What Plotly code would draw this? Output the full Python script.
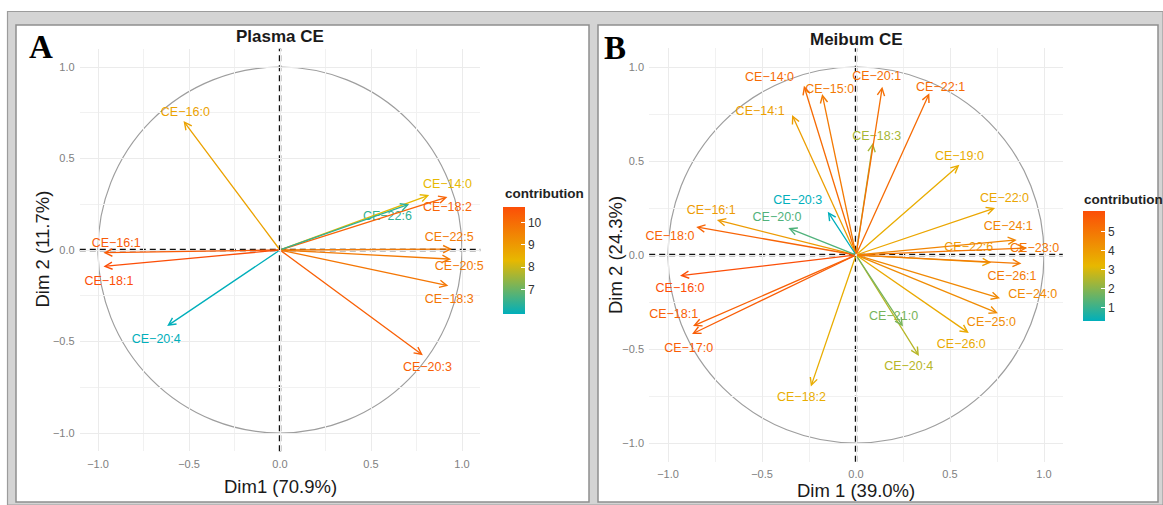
import plotly.graph_objects as go
from plotly.colors import sample_colorscale

W, H = 1163, 505
SCALE = [[0, "#00AFBB"], [0.5, "#E7B800"], [1, "#FC4E07"]]
FONT = "Liberation Sans"

# ---------------- Panel A : Plasma CE ----------------
a_names = ["CE−14:0", "CE−16:0", "CE−16:1", "CE−18:1", "CE−18:2", "CE−18:3",
           "CE−20:3", "CE−20:4", "CE−20:5", "CE−22:5", "CE−22:6"]
a_dim1 = [0.82, -0.53, -0.97, -0.97, 0.92, 0.925, 0.785, -0.62, 0.94, 0.945, 0.71]
a_dim2 = [0.30, 0.705, -0.015, -0.09, 0.29, -0.195, -0.575, -0.415, -0.05, 0.005, 0.25]
a_contrib = [8.3, 8.8, 10.4, 10.7, 10.2, 9.8, 10.3, 5.9, 9.7, 9.7, 6.4]
# label positions (repelled text)
a_lab_x = [0.92, -0.52, -0.90, -0.94, 0.92, 0.93, 0.81, -0.68, 0.985, 0.93, 0.59]
a_lab_y = [0.355, 0.75, 0.035, -0.175, 0.23, -0.27, -0.645, -0.49, -0.09, 0.065, 0.18]

# ---------------- Panel B : Meibum CE ----------------
b_names = ["CE−14:0", "CE−14:1", "CE−15:0", "CE−16:0", "CE−16:1", "CE−17:0",
           "CE−18:0", "CE−18:1", "CE−18:2", "CE−18:3", "CE−19:0", "CE−20:0",
           "CE−20:1", "CE−20:3", "CE−20:4", "CE−21:0", "CE−22:0", "CE−22:1",
           "CE−22:6", "CE−23:0", "CE−24:0", "CE−24:1", "CE−25:0", "CE−26:0",
           "CE−26:1"]
b_dim1 = [-0.277, -0.34, -0.18, -0.936, -0.74, -0.872, -0.85, -0.867, -0.24,
          0.09, 0.55, -0.36, 0.14, -0.15, 0.335, 0.25, 0.74, 0.39,
          0.72, 0.91, 0.766, 0.855, 0.755, 0.60, 0.88]
b_dim2 = [0.90, 0.745, 0.856, -0.11, 0.186, -0.42, 0.149, -0.378, -0.70,
          0.596, 0.48, 0.143, 0.895, 0.23, -0.537, -0.38, 0.25, 0.86,
          -0.04, 0.037, -0.23, 0.08, -0.31, -0.415, -0.045]
b_contrib = [5.3, 3.9, 4.9, 6.1, 4.0, 5.7, 5.5, 5.6, 3.5, 2.4, 3.5, 1.3,
             5.2, 0.3, 2.6, 1.8, 3.7, 5.3, 4.0, 5.0, 4.5, 4.6, 4.4, 3.6, 4.9]
b_lab_x = [-0.46, -0.51, -0.14, -0.936, -0.77, -0.89, -0.99, -0.97, -0.29,
           0.11, 0.55, -0.42, 0.11, -0.31, 0.28, 0.20, 0.79, 0.45,
           0.60, 0.95, 0.94, 0.81, 0.72, 0.56, 0.83]
b_lab_y = [0.94, 0.76, 0.88, -0.18, 0.234, -0.50, 0.096, -0.32, -0.76,
           0.63, 0.52, 0.197, 0.95, 0.29, -0.595, -0.33, 0.30, 0.89,
           0.04, 0.03, -0.21, 0.15, -0.36, -0.48, -0.115]


def px_x(p):
    return p / W


def px_y(p):
    return 1 - p / H


fig = go.Figure()
annotations = []
shapes = []

panels = [
    dict(names=a_names, x=a_dim1, y=a_dim2, c=a_contrib, lx=a_lab_x, ly=a_lab_y,
         xa="x", ya="y", cax="coloraxis", cx=280, cy=250, ppu=182, ppuy=183),
    dict(names=b_names, x=b_dim1, y=b_dim2, c=b_contrib, lx=b_lab_x, ly=b_lab_y,
         xa="x2", ya="y2", cax="coloraxis2", cx=856, cy=255, ppu=188, ppuy=188),
]

# background frames (paper)
shapes.append(dict(type="rect", xref="paper", yref="paper", layer="below",
                   x0=px_x(7.5), x1=px_x(1163), y0=px_y(505), y1=px_y(11.5),
                   fillcolor="#D4D4D4", line=dict(color="#9C9C9C", width=1.2)))
for (x0, x1) in [(16, 589), (598, 1158)]:
    shapes.append(dict(type="rect", xref="paper", yref="paper", layer="below",
                       x0=px_x(x0), x1=px_x(x1), y0=px_y(502), y1=px_y(25),
                       fillcolor="white", line=dict(color="#8E8E8E", width=1.5)))

layout_axes = {}
for i, p in enumerate(panels):
    sfx = "" if i == 0 else "2"
    half_x = 1.1 * p["ppu"]
    half_y = 1.1 * p["ppuy"]
    xdom = [px_x(p["cx"] - half_x), px_x(p["cx"] + half_x)]
    ydom = [px_y(p["cy"] + half_y), px_y(p["cy"] - half_y)]
    common = dict(range=[-1.1, 1.1], tickvals=[-1, -0.5, 0, 0.5, 1], tickformat=".1f",
                  showgrid=True, gridcolor="#EBEBEB", gridwidth=1.1, zeroline=False,
                  showline=False, ticks="outside", ticklen=2, tickcolor="rgba(0,0,0,0)",
                  tickfont=dict(size=11, color="#808080", family=FONT),
                  minor=dict(tickvals=[-0.75, -0.25, 0.25, 0.75], showgrid=True,
                             gridcolor="#F1F1F1", gridwidth=0.7),
                  fixedrange=True)
    layout_axes["xaxis" + sfx] = dict(common, domain=xdom, anchor="y" + sfx)
    layout_axes["yaxis" + sfx] = dict(common, domain=ydom, anchor="x" + sfx)

    colors = sample_colorscale(SCALE, [(v - min(p["c"])) / (max(p["c"]) - min(p["c"])) for v in p["c"]])

    # unit circle
    shapes.append(dict(type="circle", xref=p["xa"], yref=p["ya"], layer="below",
                       x0=-1, x1=1, y0=-1, y1=1, line=dict(color="#9E9E9E", width=1.2)))
    # dashed axes
    shapes.append(dict(type="line", xref=p["xa"] + " domain", yref=p["ya"], layer="below",
                       x0=0, x1=1, y0=0, y1=0, line=dict(color="#111111", width=2.4, dash="6px,4px")))
    shapes.append(dict(type="line", xref=p["xa"], yref=p["ya"] + " domain", layer="below",
                       x0=0, x1=0, y0=0, y1=1, line=dict(color="#111111", width=2.4, dash="6px,4px")))

    # arrows
    for xx, yy, col in zip(p["x"], p["y"], colors):
        annotations.append(dict(x=xx, y=yy, ax=0, ay=0, xref=p["xa"], yref=p["ya"],
                                axref=p["xa"], ayref=p["ya"], text="", showarrow=True,
                                arrowhead=5, arrowsize=1.1, arrowwidth=1.3, arrowcolor=col,
                                standoff=0, startstandoff=0))
    # labels
    fig.add_trace(go.Scatter(x=p["lx"], y=p["ly"], mode="text", text=p["names"],
                             textfont=dict(size=12.5, color=colors, family=FONT),
                             cliponaxis=False,
                             xaxis=p["xa"], yaxis=p["ya"], hoverinfo="skip", showlegend=False))
    # invisible points carrying the colour scale
    fig.add_trace(go.Scatter(x=p["x"], y=p["y"], mode="markers",
                             marker=dict(color=p["c"], coloraxis=p["cax"], size=2, opacity=0),
                             xaxis=p["xa"], yaxis=p["ya"], hoverinfo="skip", showlegend=False))

# titles / axis titles / panel letters
txt = [
    dict(x=280, y=37, text="<b>Plasma CE</b>", size=17),
    dict(x=856, y=40, text="<b>Meibum CE</b>", size=17),
    dict(x=280, y=486, text="Dim1 (70.9%)", size=18.5),
    dict(x=856, y=490, text="Dim 1 (39.0%)", size=18.5),
]
for t in txt:
    annotations.append(dict(x=px_x(t["x"]), y=px_y(t["y"]), xref="paper", yref="paper",
                            text=t["text"], showarrow=False, xanchor="center", yanchor="middle",
                            font=dict(size=t["size"], color="#1A1A1A", family=FONT)))
for (x, y, s) in [(41.5, 249, "Dim 2 (11.7%)"), (615, 255, "Dim 2 (24.3%)")]:
    annotations.append(dict(x=px_x(x), y=px_y(y), xref="paper", yref="paper", text=s,
                            textangle=-90, showarrow=False, xanchor="center", yanchor="middle",
                            font=dict(size=18.5, color="#1A1A1A", family=FONT)))
for (x, y, s) in [(41, 47, "A"), (615, 48, "B")]:
    annotations.append(dict(x=px_x(x), y=px_y(y), xref="paper", yref="paper",
                            text="<b>%s</b>" % s, showarrow=False, xanchor="center", yanchor="middle",
                            font=dict(size=33, color="black", family="Liberation Serif")))
for (x, y) in [(503, 193), (1082, 199)]:
    annotations.append(dict(x=px_x(x), y=px_y(y), xref="paper", yref="paper",
                            text="<b>contribution</b>", showarrow=False, xanchor="left", yanchor="middle",
                            font=dict(size=13.5, color="#222222", family=FONT)))


def cbar(x_left, y_top, y_bot, tickvals):
    return dict(x=px_x(x_left), xanchor="left", y=px_y((y_top + y_bot) / 2), yanchor="middle",
                len=y_bot - y_top, lenmode="pixels", thickness=22, thicknessmode="pixels",
                xpad=0, ypad=0, outlinewidth=0, ticks="inside", ticklen=4, tickcolor="white",
                tickvals=tickvals, tickfont=dict(size=12, color="#333333", family=FONT),
                title=dict(text=""))


fig.update_layout(
    width=W, height=H, margin=dict(l=0, r=0, t=0, b=0),
    paper_bgcolor="white", plot_bgcolor="rgba(0,0,0,0)",
    showlegend=False, shapes=shapes, annotations=annotations,
    coloraxis=dict(colorscale=SCALE, cmin=min(a_contrib), cmax=max(a_contrib),
                   colorbar=cbar(503, 207, 314, [7, 8, 9, 10])),
    coloraxis2=dict(colorscale=SCALE, cmin=min(b_contrib), cmax=max(b_contrib),
                    colorbar=cbar(1083, 211, 321, [1, 2, 3, 4, 5])),
    **layout_axes,
)

fig.write_html("out.html")
